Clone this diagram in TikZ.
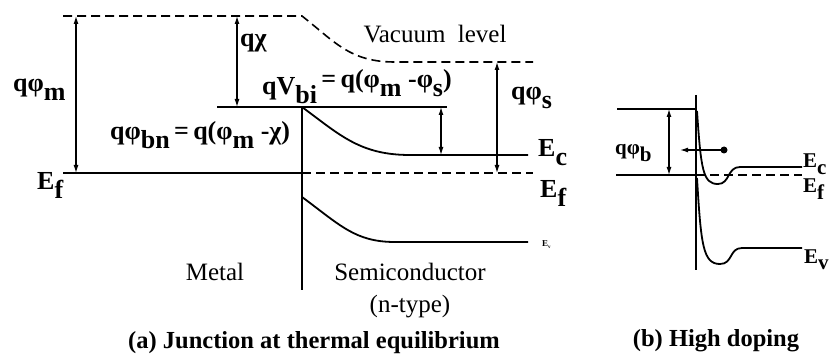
\documentclass[tikz,border=0pt]{standalone}
\usepackage{fontspec}
\setmainfont{Liberation Serif}
\usetikzlibrary{arrows.meta}
\tikzset{
  level/.style={black, line width=1.8pt},
  vaclevel/.style={black, line width=1.6pt, dash pattern=on 9pt off 5pt},
  gap/.style={{Latex[length=8pt,width=5pt]}-{Latex[length=8pt,width=5pt]}, line width=1.2pt},
  hop/.style={-{Latex[length=8pt,width=5pt]}, line width=1.2pt},
  lab/.style={font=\fontsize{26}{30}\selectfont\bfseries, inner sep=0pt},
  smalllab/.style={font=\fontsize{21}{26}\selectfont\bfseries, inner sep=0pt},
  txt/.style={font=\fontsize{25}{30}\selectfont, inner sep=0pt},
  caption/.style={font=\fontsize{24.5}{30}\selectfont\bfseries, inner sep=0pt},
}
\newcommand\lo[1]{\raisebox{-0.32em}{#1}}

\begin{document}
\begin{tikzpicture}[x=1pt,y=-1pt]
  \path[use as bounding box] (0,0) rectangle (835,358);

  % (a) junction at thermal equilibrium
  \coordinate (vacM) at (76,16);
  \coordinate (efM) at (76,173);
  \coordinate (vacC) at (237,16);
  \coordinate (ecT) at (237,107);
  \coordinate (biT) at (441,107);
  \coordinate (biB) at (441,155);
  \coordinate (vacS) at (497,62);
  \coordinate (efS) at (497,173);

  \draw[vaclevel] (63,16) -- (302,16)
    .. controls (335,42) and (350,62) .. (395,62) -- (533,62);
  \draw[level] (63,173) -- (302,173);
  \draw[vaclevel] (302,173) -- (533,173);
  \draw[level] (217,107) -- (447,107);
  \draw[level] (302,107) -- (302,290);
  \draw[level] (302,107) .. controls (340,135) and (360,155) .. (410,155) -- (528,155);
  \draw[level] (302,197) .. controls (340,225) and (355,242) .. (395,242) -- (528,242);

  \draw[gap] (vacM) -- (efM);
  \draw[gap] (vacC) -- (ecT);
  \draw[gap] (biT) -- (biB);
  \draw[gap] (vacS) -- (efS);

  \node[lab, anchor=base west] (phim) at (13,92) {qφ\lo{m}};
  \node[lab, anchor=base west] (chi) at (240,47) {qχ};
  \node[lab, anchor=base west] (vbi) at (262,95)
    {qV\lo{bi}\raisebox{0.28em}{\,=\,q(φ\lo{m} -φ\lo{s})}};
  \node[lab, anchor=base west] (phibn) at (110,140) {qφ\lo{bn}\,=\,q(φ\lo{m} -χ)};
  \node[lab, anchor=base west] (efl) at (37,190) {E\lo{f}};
  \node[lab, anchor=base west] (phis) at (511,100) {qφ\lo{s}};
  \node[lab, anchor=base west] (ecl) at (538,157) {E\lo{c}};
  \node[lab, anchor=base west] (efr) at (540,198) {E\lo{f}};
  \node[font=\fontsize{9}{10}\selectfont\bfseries, anchor=base west, inner sep=0pt] (evl)
    at (542,247) {E\raisebox{-0.2em}{\fontsize{5}{6}\selectfont v}};
  \node[txt, anchor=base] (vac) at (435,43) {Vacuum \ level};
  \node[txt, anchor=base] (metal) at (215,280) {Metal};
  \node[txt, anchor=base] (semi) at (410,280) {Semiconductor};
  \node[txt, anchor=base] (ntype) at (410,312) {(n-type)};
  \node[caption, anchor=base] (capa) at (314,348) {(a) Junction at thermal equilibrium};

  % (b) high doping
  \coordinate (phbT) at (669,109);
  \coordinate (phbB) at (669,175);
  \coordinate (dot) at (724,150);
  \coordinate (tunnel) at (680,150);

  \draw[level] (617,109) -- (696,109);
  \draw[level] (616,175) -- (696,175);
  \draw[vaclevel] (696,175) -- (802,175);
  \draw[level] (696,95) -- (696,270);
  \draw[level] (697,111) .. controls (701,170) and (703,184) .. (718,184)
    .. controls (730,184) and (727,167) .. (740,167) -- (802,167);
  \draw[level] (697,178) .. controls (701,245) and (703,264) .. (720,264)
    .. controls (733,264) and (729,248) .. (742,248) -- (802,248);

  \draw[gap] (phbT) -- (phbB);
  \fill (dot) circle (3.5);
  \draw[hop] (dot) -- (tunnel);

  \node[smalllab, anchor=base west] (phib) at (615,155) {qφ\lo{b}};
  \node[smalllab, anchor=base west] (ecb) at (803,168) {E\lo{c}};
  \node[smalllab, anchor=base west] (efb) at (803,193) {E\lo{f}};
  \node[smalllab, anchor=base west] (evb) at (804,263) {E\lo{v}};
  \node[caption, anchor=base] (capb) at (716,346) {(b) High doping};
\end{tikzpicture}
\end{document}
